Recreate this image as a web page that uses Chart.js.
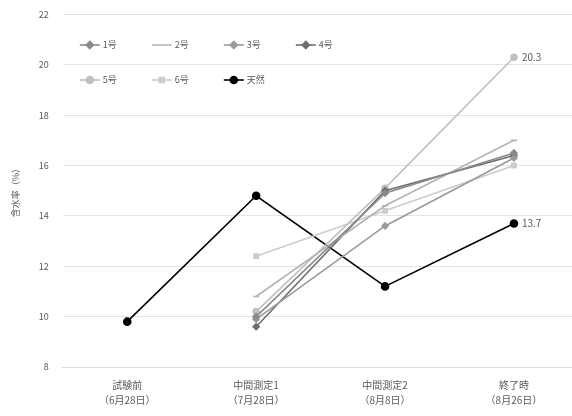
<!DOCTYPE html>
<html>
<head>
<meta charset="utf-8">
<script src="https://cdn.jsdelivr.net/npm/chart.js@4/dist/chart.umd.min.js"></script>
<style>
  html, body { margin: 0; padding: 0; background: #fff; overflow: hidden; }
  #wrap { width: 584px; height: 421px; margin-top: -5px; }
</style>
</head>
<body>
<div id="wrap"><canvas id="mycanvas"></canvas></div>
<script>
var categories = [
  ["試験前", "（6月28日）"],
  ["中間測定1", "（7月28日）"],
  ["中間測定2", "（8月8日）"],
  ["終了時", "（8月26日）"]
];
var seriesNames = ["1号", "2号", "3号", "4号", "5号", "6号", "天然"];
var no1 = [null, 10.0, 14.9, 16.5];
var no2 = [null, 10.8, 14.4, 17.0];
var no3 = [null, 9.9, 13.6, 16.3];
var no4 = [null, 9.6, 15.0, 16.4];
var no5 = [null, 10.2, 15.1, 20.3];
var no6 = [null, 12.4, 14.2, 16.0];
var natural = [9.8, 14.8, 11.2, 13.7];
var yTicks = [8, 10, 12, 14, 16, 18, 20, 22];

var colors = ["#8a8a8a", "#b4b4b4", "#9a9a9a", "#6e6e6e", "#c0c0c0", "#cccccc", "#000000"];
var markers = ["rectRot", "line", "rectRot", "rectRot", "circle", "rect", "circle"];
var allData = [no1, no2, no3, no4, no5, no6, natural];
var endLabels = [false, false, false, false, true, false, true];

var font = "'Noto Sans CJK JP', 'Noto Sans', sans-serif";

var datasets = allData.map(function (d, i) {
  return {
    label: seriesNames[i],
    data: d,
    borderColor: colors[i],
    backgroundColor: colors[i],
    pointStyle: markers[i],
    pointRadius: i == 6 ? 3.5 : 3,
    borderWidth: 1.6,
    tension: 0,
    spanGaps: false
  };
});

// legend drawn in two rows inside the plot, top left
var legendInPlot = {
  id: "legendInPlot",
  afterDraw: function (chart) {
    var ctx = chart.ctx;
    var left = chart.chartArea.left;
    ctx.save();
    ctx.font = "9px " + font;
    ctx.textBaseline = "middle";
    chart.data.datasets.forEach(function (ds, i) {
      var row = i < 4 ? 0 : 1;
      var col = i < 4 ? i : i - 4;
      var x = left + 17 + col * 72;
      var y = 50 + row * 35;
      ctx.strokeStyle = ds.borderColor;
      ctx.lineWidth = 1.6;
      ctx.beginPath();
      ctx.moveTo(x, y);
      ctx.lineTo(x + 20, y);
      ctx.stroke();
      if (ds.pointStyle != "line") {
        ctx.fillStyle = ds.backgroundColor;
        Chart.helpers.drawPoint(ctx, {pointStyle: ds.pointStyle, radius: 3.5, borderWidth: 1}, x + 10, y);
      }
      ctx.fillStyle = "#595959";
      ctx.fillText(ds.label, x + 23, y);
    });
    ctx.restore();
  }
};

// value labels at the last point of chosen series
var endValues = {
  id: "endValues",
  afterDatasetsDraw: function (chart) {
    var ctx = chart.ctx;
    ctx.save();
    ctx.font = "10px " + font;
    ctx.fillStyle = "#595959";
    ctx.textBaseline = "middle";
    chart.data.datasets.forEach(function (ds, i) {
      if (!endLabels[i]) return;
      var meta = chart.getDatasetMeta(i);
      var last = ds.data.length - 1;
      var pt = meta.data[last];
      ctx.fillText(ds.data[last].toFixed(1), pt.x + 8, pt.y);
    });
    ctx.restore();
  }
};

var ctx = document.getElementById("mycanvas").getContext("2d");
var lineChart = new Chart(ctx, {
  type: "line",
  data: {
    labels: categories,
    datasets: datasets
  },
  options: {
    responsive: true,
    maintainAspectRatio: false,
    animation: false,
    layout: { padding: { left: 6, top: 1, right: 0, bottom: 5 } },
    plugins: {
      legend: { display: false },
      tooltip: { enabled: false }
    },
    scales: {
      x: {
        offset: true,
        grid: { display: false },
        border: { display: true, color: "#d9d9d9" },
        ticks: { color: "#595959", font: { size: 10, family: font, lineHeight: 1.5 }, maxRotation: 0, padding: 3 }
      },
      y: {
        min: 8,
        max: 22,
        afterBuildTicks: function (axis) {
          axis.ticks = yTicks.map(function (v) { return { value: v }; });
        },
        grid: { color: "#e3e3e3", drawTicks: false },
        border: { display: false },
        ticks: { color: "#595959", font: { size: 9, family: font }, padding: 14 },
        title: {
          display: true,
          text: "含水率（%）",
          color: "#595959",
          font: { size: 9, family: font }
        }
      }
    }
  },
  plugins: [legendInPlot, endValues]
});
</script>
</body>
</html>
